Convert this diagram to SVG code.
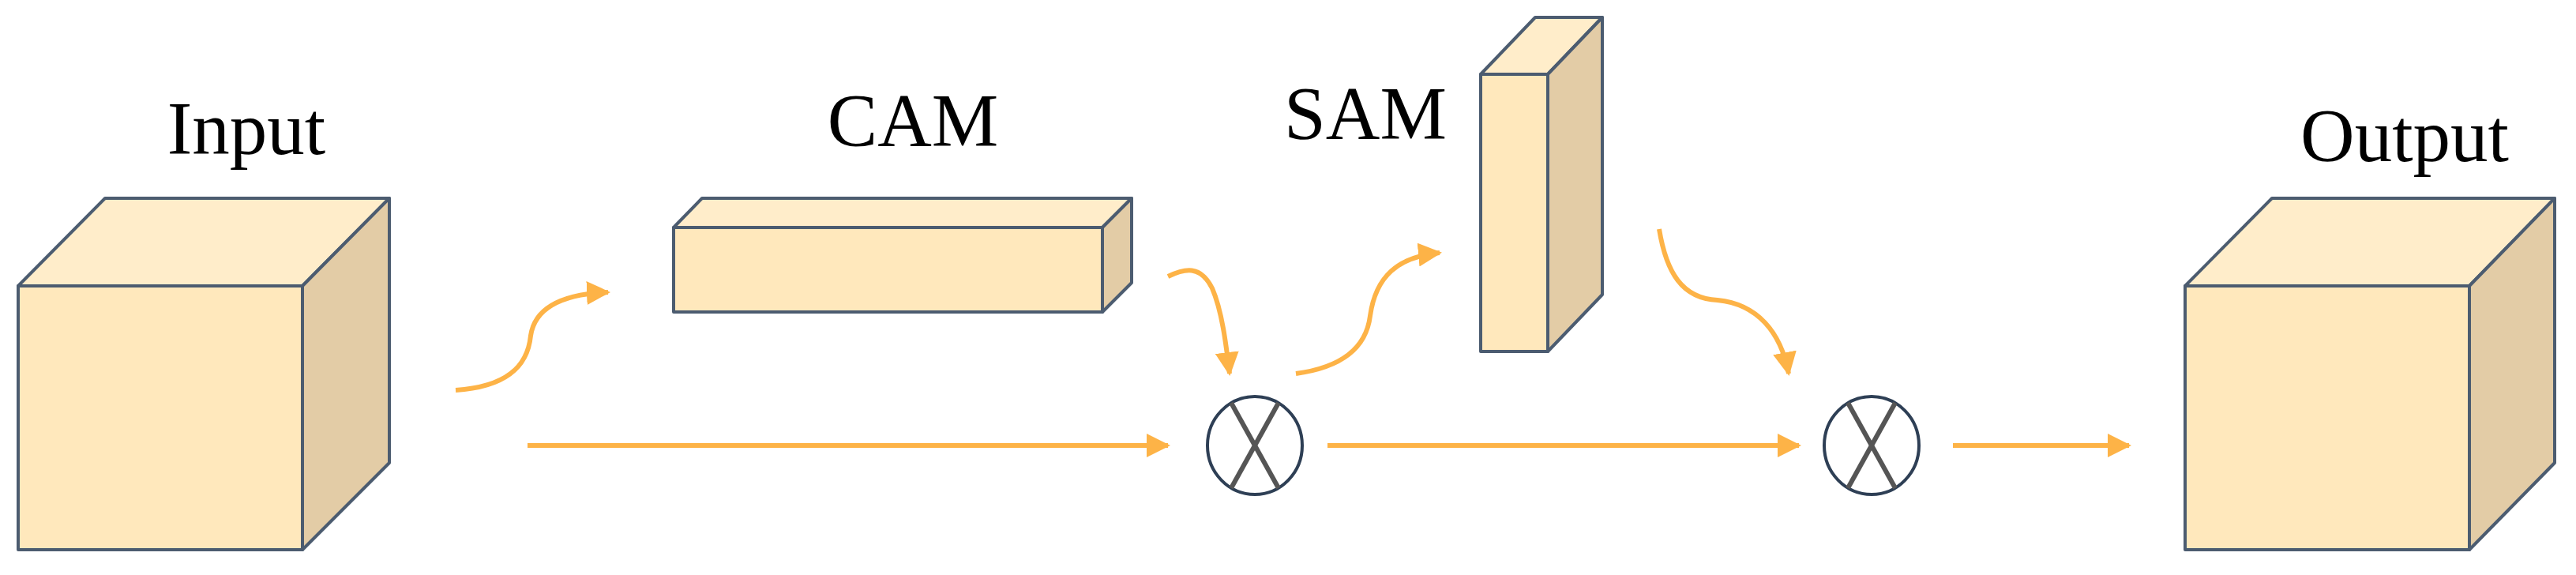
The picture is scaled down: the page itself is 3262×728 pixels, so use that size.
<svg xmlns="http://www.w3.org/2000/svg" width="3262" height="728" viewBox="0 0 3262 728">
<style>
.f{fill:#FFE8BC;stroke:#4C5C70;stroke-width:4;stroke-linejoin:round}
.t{fill:#FFEDCA;stroke:#4C5C70;stroke-width:4;stroke-linejoin:round}
.s{fill:#E3CCA6;stroke:#4C5C70;stroke-width:4;stroke-linejoin:round}
.lbl{font-family:"Liberation Serif",serif;font-size:95px;fill:#000;text-anchor:middle}
.a{fill:none;stroke:#FDB347;stroke-width:6;marker-end:url(#ah)}
.c{fill:#fff;stroke:#2E3F55;stroke-width:4}
.x{stroke:#555;stroke-width:6}
</style>
<defs>
<marker id="ah" viewBox="0 0 10 10" refX="9" refY="5" markerWidth="5" markerHeight="5" orient="auto" markerUnits="strokeWidth">
<path d="M0,0 L10,5 L0,10 z" fill="#FDB347"/>
</marker>
</defs>
<g id="input">
<polygon class="t" points="23,362 133,251 493,251 383,362"/>
<polygon class="s" points="383,362 493,251 493,586 383,696"/>
<rect class="f" x="23" y="362" width="360" height="334"/>
<text class="lbl" x="312" y="195">Input</text>
</g>
<g id="cam">
<polygon class="t" points="853,288 889,251 1433,251 1396,288"/>
<polygon class="s" points="1396,288 1433,251 1433,358 1396,395"/>
<rect class="f" x="853" y="288" width="543" height="107"/>
<text class="lbl" x="1156" y="185">CAM</text>
</g>
<g id="sam">
<polygon class="t" points="1875,94 1944,22 2029,22 1960,94"/>
<polygon class="s" points="1960,94 2029,22 2029,373 1960,445"/>
<rect class="f" x="1875" y="94" width="85" height="351"/>
<text class="lbl" x="1729" y="176">SAM</text>
</g>
<g id="output">
<polygon class="t" points="2767,362 2877,251 3235,251 3127,362"/>
<polygon class="s" points="3127,362 3235,251 3235,586 3127,696"/>
<rect class="f" x="2767" y="362" width="360" height="334"/>
<text class="lbl" x="3045" y="204">Output</text>
</g>
<g id="mul1">
<ellipse class="c" cx="1589" cy="564" rx="60" ry="62"/>
<line class="x" x1="1559" y1="510" x2="1619" y2="618"/>
<line class="x" x1="1619" y1="510" x2="1559" y2="618"/>
</g>
<g id="mul2">
<ellipse class="c" cx="2370" cy="564" rx="60" ry="62"/>
<line class="x" x1="2340" y1="510" x2="2400" y2="618"/>
<line class="x" x1="2400" y1="510" x2="2340" y2="618"/>
</g>
<g id="connectors">
<path class="a" d="M668,564 L1479,564"/>
<path class="a" d="M1681,564 L2278,564"/>
<path class="a" d="M2473,564 L2696,564"/>
<path class="a" d="M577,494 C640,490 668,465 672,425 C678,385 720,372 770,370"/>
<path class="a" d="M1479,350 C1500,340 1520,335 1535,365 C1548,395 1553,440 1557,473"/>
<path class="a" d="M1641,473 C1700,465 1730,440 1735,400 C1742,350 1770,325 1823,320"/>
<path class="a" d="M2101,290 C2110,345 2130,378 2175,380 C2225,385 2255,420 2265,473"/>
</g>
</svg>
